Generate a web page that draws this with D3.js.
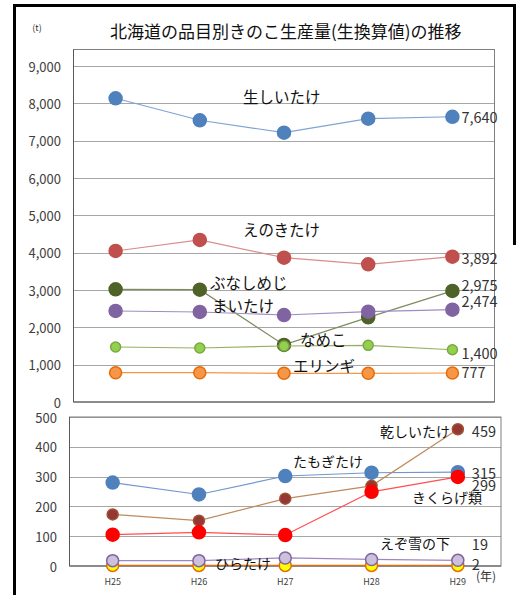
<!DOCTYPE html>
<html lang="ja">
<head>
    <meta charset="UTF-8">
    <script src="https://d3js.org/d3.v7.min.js"></script>
    <title>北海道の品目別きのこ生産量</title>
    <style>
        body { margin: 0; background: #fff; }
        text { font-family: "Noto Sans CJK JP", "Noto Sans", sans-serif; }
    </style>
</head>
<body>
    <div id="chart"></div>

    <script>
        // years (x axis)
        const years = ["H25", "H26", "H27", "H28", "H29"];

        // upper panel series (t)
        const namaShiitake = [8135, 7546, 7214, 7590, 7640];
        const enokitake = [4045, 4340, 3866, 3688, 3892];
        const bunashimeji = [3018, 3009, 1530, 2268, 2975];
        const maitake = [2438, 2411, 2330, 2419, 2474];
        const nameko = [1473, 1446, 1500, 1518, 1400];
        const eringi = [785, 785, 768, 768, 777];

        // lower panel series (t)
        const tamogitake = [280, 240, 302, 313, 315];
        const hoshiShiitake = [173, 152, 226, 269, 459];
        const kikurage = [105, 113, 104, 249, 299];
        const ezoYukinoshita = [18, 18, 27, 22, 19];
        const hiratake = [2, 2, 2, 2, 2];

        const topTicks = [0, 1000, 2000, 3000, 4000, 5000, 6000, 7000, 8000, 9000];
        const bottomTicks = [0, 100, 200, 300, 400, 500];

        /*------------------- layout --------------------*/
        const width = 518, height = 595;

        const svg = d3.select("#chart").append("svg")
            .attr("width", width)
            .attr("height", height);

        // outer black frame
        svg.append("path")
            .attr("d", "M14.5,597 V5.5 H514.5 V245")
            .attr("fill", "none")
            .attr("stroke", "#000")
            .attr("stroke-width", 3);

        // title
        svg.append("text")
            .attr("x", 110).attr("y", 30)
            .attr("dominant-baseline", "central")
            .attr("font-size", 17)
            .attr("fill", "#111")
            .text("北海道の品目別きのこ生産量(生換算値)の推移");

        svg.append("text")
            .attr("x", 37).attr("y", 27)
            .attr("text-anchor", "middle")
            .attr("dominant-baseline", "central")
            .attr("font-size", 9)
            .attr("fill", "#333")
            .text("(t)");

        // each panel: plot box, scales, series
        const panels = [
            {
                left: 73.5, right: 494.5, boxTop: 49.5, bottom: 402, top: 66,
                domain: [0, 9000], ticks: topTicks, tickX: 61, xLabels: false,
                series: [
                    { name: "生しいたけ", values: namaShiitake, line: "#7fa3d6", fill: "#4f81bd", stroke: "#4f81bd", r: 6.5, lx: 243, ly: 96, dy: 0 },
                    { name: "えのきたけ", values: enokitake, line: "#d98e8c", fill: "#c0504d", stroke: "#c0504d", r: 6.5, lx: 243, ly: 229, dy: 1 },
                    { name: "ぶなしめじ", values: bunashimeji, line: "#7d8b60", fill: "#4f6228", stroke: "#4f6228", r: 6.5, lx: 210, ly: 282, dy: -6 },
                    { name: "まいたけ", values: maitake, line: "#a08cc2", fill: "#8064a2", stroke: "#8064a2", r: 6.5, lx: 212, ly: 305, dy: -9 },
                    { name: "なめこ", values: nameko, line: "#98b064", fill: "#92d050", stroke: "#7aa83e", r: 5, lx: 300, ly: 339, dy: 3 },
                    { name: "エリンギ", values: eringi, line: "#f79646", fill: "#f79646", stroke: "#e46c0a", r: 6, lx: 293, ly: 365, dy: -1 }
                ]
            },
            {
                left: 69.5, right: 501, boxTop: 417, bottom: 566, top: 417,
                domain: [0, 500], ticks: bottomTicks, tickX: 57, xLabels: true,
                series: [
                    { name: "たもぎたけ", values: tamogitake, line: "#6f97cf", fill: "#4f81bd", stroke: "#4f81bd", r: 6.5, lx: 293, ly: 461, dy: 0 },
                    { name: "乾しいたけ", values: hoshiShiitake, line: "#c08a5c", fill: "#953735", stroke: "#a0522d", r: 5.5, lx: 380, ly: 431, dy: 1 },
                    { name: "きくらげ類", values: kikurage, line: "#ff4f4f", fill: "#ff0000", stroke: "#ff0000", r: 6.5, lx: 412, ly: 497, dy: 8 },
                    { name: "ひらたけ", values: hiratake, line: "#e46c0a", fill: "#ffff00", stroke: "#e46c0a", r: 6, lx: 215, ly: 563, dy: -2 },
                    { name: "えぞ雪の下", values: ezoYukinoshita, line: "#9d87c0", fill: "#ccc0da", stroke: "#8064a2", r: 6, lx: 380, ly: 543, dy: -17 }
                ]
            }
        ];

        panels.forEach(p => {
            const x = d3.scaleBand()
                .domain(years)
                .range([p.left, p.right]);

            const y = d3.scaleLinear()
                .domain(p.domain)
                .range([p.bottom, p.top]);

            const g = svg.append("g");

            // gridlines
            g.selectAll("line.grid")
                .data(p.ticks.filter(t => t > 0))
                .enter()
                .append("line")
                .attr("class", "grid")
                .attr("x1", p.left).attr("x2", p.right)
                .attr("y1", d => Math.round(y(d)) + 0.5)
                .attr("y2", d => Math.round(y(d)) + 0.5)
                .attr("stroke", "#a6a6a6")
                .attr("stroke-width", 1);

            // plot box
            g.append("rect")
                .attr("x", p.left).attr("y", p.boxTop)
                .attr("width", p.right - p.left)
                .attr("height", p.bottom - p.boxTop)
                .attr("fill", "none")
                .attr("stroke", "#7f7f7f")
                .attr("stroke-width", 1);

            // axis lines
            g.append("line")
                .attr("x1", p.left).attr("x2", p.left)
                .attr("y1", p.boxTop).attr("y2", p.bottom)
                .attr("stroke", "#595959");
            g.append("line")
                .attr("x1", p.left).attr("x2", p.right)
                .attr("y1", p.bottom).attr("y2", p.bottom)
                .attr("stroke", "#595959");

            // y tick labels
            g.selectAll("text.tick")
                .data(p.ticks)
                .enter()
                .append("text")
                .attr("class", "tick")
                .attr("x", p.tickX)
                .attr("y", d => y(d))
                .attr("text-anchor", "end")
                .attr("dominant-baseline", "central")
                .attr("font-size", 13)
                .attr("fill", "#404040")
                .text(d => d3.format(",")(d));

            // x labels
            if (p.xLabels) {
                g.selectAll("text.xl")
                    .data(years)
                    .enter()
                    .append("text")
                    .attr("class", "xl")
                    .attr("x", d => x(d) + x.bandwidth() / 2)
                    .attr("y", 581)
                    .attr("text-anchor", "middle")
                    .attr("dominant-baseline", "central")
                    .attr("font-size", 9)
                    .attr("fill", "#404040")
                    .text(d => d);
            }

            const cx = i => x(years[i]) + x.bandwidth() / 2;

            const line = d3.line()
                .x((d, i) => cx(i))
                .y(d => y(d));

            // lines and markers
            p.series.forEach(s => {
                g.append("path")
                    .datum(s.values)
                    .attr("d", line)
                    .attr("fill", "none")
                    .attr("stroke", s.line)
                    .attr("stroke-width", 1.2);

                g.selectAll(null)
                    .data(s.values)
                    .enter()
                    .append("circle")
                    .attr("cx", (d, i) => cx(i))
                    .attr("cy", d => y(d))
                    .attr("r", s.r)
                    .attr("fill", s.fill)
                    .attr("stroke", s.stroke)
                    .attr("stroke-width", 1.5);
            });

            // series names and last values
            p.series.forEach(s => {
                const last = s.values[s.values.length - 1];
                g.append("text")
                    .attr("x", s.lx).attr("y", s.ly)
                    .attr("dominant-baseline", "central")
                    .attr("font-size", p.xLabels ? 14 : 15.5)
                    .attr("fill", "#111")
                    .text(s.name);
                g.append("text")
                    .attr("x", cx(4) + (p.xLabels ? 14 : 9))
                    .attr("y", y(last) + s.dy)
                    .attr("dominant-baseline", "central")
                    .attr("font-size", 14.5)
                    .attr("fill", "#333")
                    .text(d3.format(",")(last));
            });
        });

        // unit label for x axis
        svg.append("text")
            .attr("x", 486).attr("y", 575)
            .attr("text-anchor", "middle")
            .attr("dominant-baseline", "central")
            .attr("font-size", 12)
            .attr("fill", "#333")
            .text("(年)");
    </script>
</body>
</html>
